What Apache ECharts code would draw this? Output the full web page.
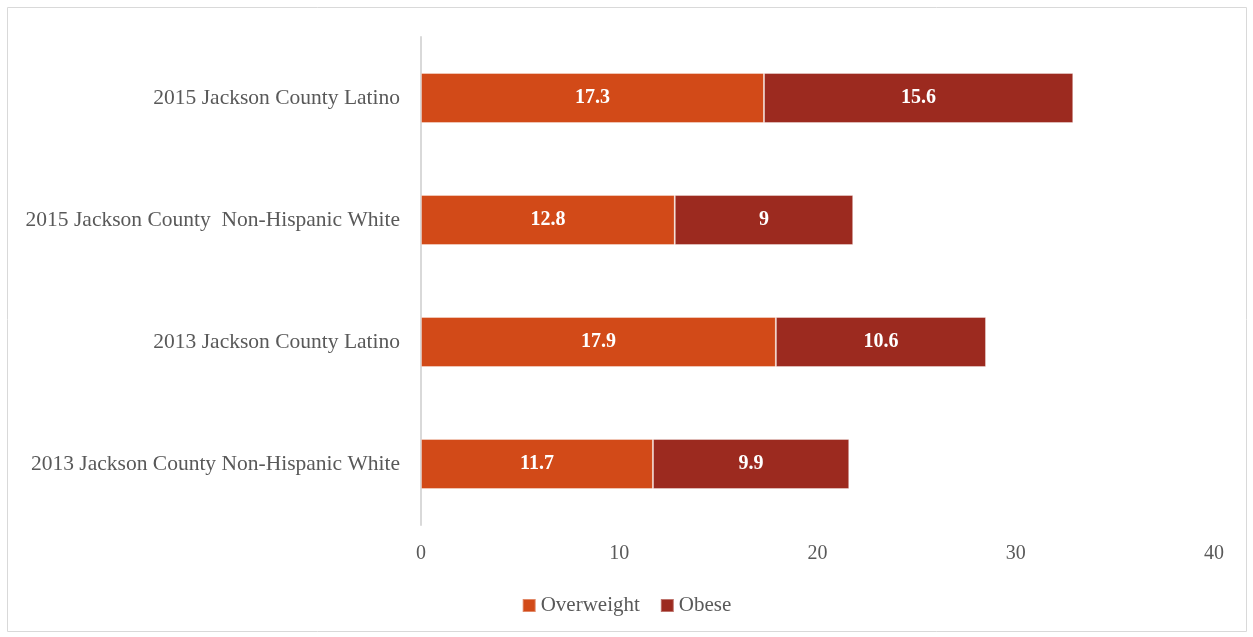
<!DOCTYPE html>
<html><head><meta charset="utf-8">
<script src="https://cdn.jsdelivr.net/npm/echarts@6/dist/echarts.min.js"></script>
<style>html,body{margin:0;padding:0;background:#fff}#c{width:1253px;height:637px}</style>
</head><body><div id="c"></div>
<script>
const categories = ["2013 Jackson County Non-Hispanic White","2013 Jackson County Latino","2015 Jackson County  Non-Hispanic White","2015 Jackson County Latino"];
const overweight = [11.7, 17.9, 12.8, 17.3];
const obese = [9.9, 10.6, 9, 15.6];
const seriesNames = ["Overweight","Obese"];
const xTicks = [0, 10, 20, 30, 40];

const font = "'Liberation Serif', 'DejaVu Serif', serif";
const chart = echarts.init(document.getElementById('c'));
const labelOpt = {show:true, position:'inside', color:'#fff', fontFamily:font, fontWeight:'bold', fontSize:20};
chart.setOption({
  animation:false,
  textStyle:{fontFamily:font},
  graphic:[{type:'rect', shape:{x:7.5,y:7.5,width:1239,height:624}, style:{fill:'none', stroke:'#d9d9d9', lineWidth:1}, z:-10}],
  grid:{left:421, right:39, top:37, bottom:112, containLabel:false},
  legend:{bottom:16, left:'center', itemWidth:13, itemHeight:13, itemGap:20, icon:'rect',
    textStyle:{fontFamily:font, fontSize:21, color:'#595959'}, data:seriesNames},
  xAxis:{type:'value', min:xTicks[0], max:xTicks[xTicks.length-1], interval:10,
    axisLine:{show:false}, axisTick:{show:false}, splitLine:{show:false},
    axisLabel:{fontFamily:font, fontSize:20, color:'#595959', margin:19}},
  yAxis:{type:'category', data:categories,
    axisLine:{show:true, lineStyle:{color:'#d9d9d9', width:2}}, axisTick:{show:false},
    axisLabel:{fontFamily:font, fontSize:21.5, color:'#595959', margin:21}},
  series:[
    {name:seriesNames[0], type:'bar', stack:'s', data:overweight, barWidth:50, itemStyle:{color:'#D24A18', borderColor:'rgba(255,255,255,0.35)', borderWidth:1}, label:labelOpt},
    {name:seriesNames[1], type:'bar', stack:'s', data:obese, barWidth:50, itemStyle:{color:'#9C2A1F', borderColor:'rgba(255,255,255,0.35)', borderWidth:1}, label:labelOpt}
  ]
});
</script></body></html>
